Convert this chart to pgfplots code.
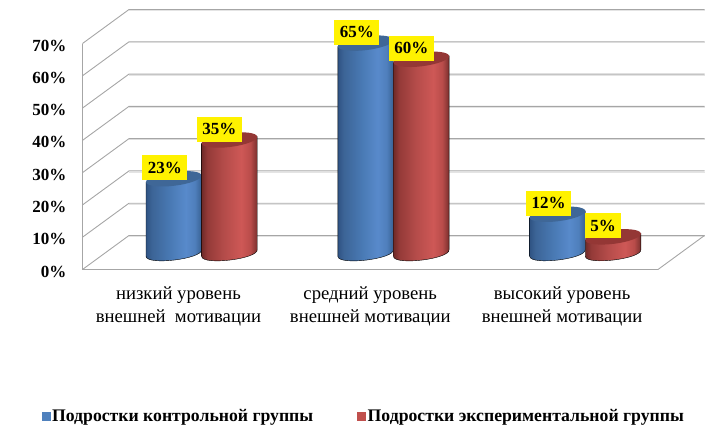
\documentclass[border=0pt]{standalone}
\usepackage{fontspec}
\setmainfont{Liberation Serif}
\usepackage{pgfplots}
\pgfplotsset{compat=1.18}
\usetikzlibrary{calc}
\definecolor{gridc}{HTML}{A6A6A6}
\definecolor{gridshadow}{HTML}{E4E4E4}
\definecolor{lblue}{HTML}{4F81BD}
\definecolor{lred}{HTML}{C0504D}
\definecolor{topb}{HTML}{3F6797}
\definecolor{topr}{HTML}{943735}
\definecolor{ba}{HTML}{2F5383}
\definecolor{bb}{HTML}{3C6496}
\definecolor{bc}{HTML}{4878B2}
\definecolor{bd}{HTML}{588ACB}
\definecolor{be}{HTML}{4F7FBC}
\definecolor{bf}{HTML}{345C8C}
\definecolor{ra}{HTML}{6F2A28}
\definecolor{rb}{HTML}{943A38}
\definecolor{rc}{HTML}{B54C4A}
\definecolor{rd}{HTML}{CE5856}
\definecolor{re}{HTML}{B94C4A}
\definecolor{rf}{HTML}{702B29}
\pgfdeclarehorizontalshading{bluecyl}{100bp}{
  color(0bp)=(ba);
  color(25bp)=(ba);
  color(30bp)=(bb);
  color(45bp)=(bc);
  color(60bp)=(bd);
  color(68bp)=(be);
  color(75bp)=(bf);
  color(100bp)=(bf)}
\pgfdeclarehorizontalshading{redcyl}{100bp}{
  color(0bp)=(ra);
  color(25bp)=(ra);
  color(30bp)=(rb);
  color(45bp)=(rc);
  color(60bp)=(rd);
  color(68bp)=(re);
  color(75bp)=(rf);
  color(100bp)=(rf)}
\pgfdeclareplotmark{cyltop}{%
  \pgfpathellipse{\pgfpointorigin}{\pgfqpoint{27.8pt}{3.4pt}}{\pgfqpoint{-0.85pt}{6.95pt}}%
  \pgfusepath{fill}}
\pgfplotsset{
  cyl/.style n args={4}{
    scatter, only marks, mark=cyltop,
    visualization depends on={rawy \as \yv},
    scatter/@pre marker code/.code={%
      \pgfmathsetmacro\H{\yv*3.23}%
      \path[shading=#2]
        ({#1-27.8pt},-3.4pt) -- ({#1-27.8pt},{(-3.4-\H)*1pt})
        .. controls ({#1-26.67pt},{(-12.67-\H)*1pt}) and ({#1+28.93pt},{(-5.87-\H)*1pt})
        .. ({#1+27.8pt},{(3.4-\H)*1pt}) -- ({#1+27.8pt},3.4pt) -- cycle;
      \scope[xshift=#1,fill=#3,draw=none]%
    },
    scatter/@post marker code/.code={\endscope},
    legend image code/.code={\fill[#4] (-3pt,-4pt) rectangle (5pt,4pt);},
  },
  cyllabel/.style={
    forget plot, only marks, mark=none, point meta=y,
    nodes near coords={\pgfmathprintnumber{\pgfplotspointmeta}\%},
    every node near coord/.append style={
      anchor=center, fill=yellow, text=black, inner xsep=5.5pt, inner ysep=0pt,
      minimum height=25pt, font=\fontsize{17}{18}\selectfont\bfseries,
      /pgf/number format/assume math mode=true,
      xshift=#1, yshift=11pt},
  },
}
\begin{document}
\begin{tikzpicture}[x=1pt,y=1pt]
\path (0,0) rectangle (726,431);
\begin{axis}[
  at={(82.5pt,161.5pt)}, anchor=south west, scale only axis,
  width=575.5pt, height=226pt,
  xmin=0, xmax=3, ymin=0, ymax=70,
  clip=false,
  axis x line=bottom, axis y line=left,
  axis line style={-,draw=gridc,line width=0.9pt},
  xtick={0.5,1.5,2.5},
  major x tick style={draw=none},
  xticklabels={{низкий уровень\\внешней\ \ мотивации},{средний уровень\\внешней\ мотивации},{высокий уровень\\внешней\ мотивации}},
  extra x ticks={0,1,2,3},
  extra x tick labels={},
  extra x tick style={tick style={draw=gridc,line width=0.7pt},major tick length=5pt},
  x tick label style={align=center,font=\fontsize{18.7}{23}\selectfont,yshift=-12pt},
  ytick={0,10,...,70},
  yticklabel={\pgfmathprintnumber{\tick}\%},
  /pgf/number format/assume math mode=true,
  y tick label style={font=\fontsize{17}{18}\selectfont\bfseries,xshift=-10.5pt,yshift=-2pt},
  major y tick style={draw=none},
]
\pgfplotsinvokeforeach{0,10,...,70}{
  \draw[gridshadow,line width=1pt] ($(axis cs:0,#1)+(46.5pt,32.8pt)$) -- ++(576pt,0pt);
  \draw[gridc,line width=0.9pt] (axis cs:0,#1) -- ++(46.5pt,34pt) -- ++(575.5pt,0pt);
}
\draw[gridc,line width=0.9pt] (axis cs:3,0) -- ++(46.5pt,34pt);
\draw[gridc,line width=1.6pt] (axis cs:0,0) -- (axis cs:3,0);
\end{axis}
\begin{axis}[
  at={(105.5pt,178pt)}, anchor=south west, scale only axis,
  width=575.5pt, height=226pt,
  xmin=-0.5, xmax=2.5, ymin=0, ymax=70,
  clip=false, hide axis,
  legend style={draw=none,fill=none,at={(0,0)},anchor=west,xshift=-67pt,yshift=-163pt,
    legend columns=2,font=\fontsize{17.7}{20}\selectfont\bfseries,
    /tikz/every even column/.append style={column sep=42pt}},
]
\addplot[cyl={-27.6pt}{bluecyl}{topb}{lblue}] coordinates {(0,23) (1,65) (2,12)};
\addlegendentry{Подростки контрольной группы}
\addplot[cyl={28pt}{redcyl}{topr}{lred}] coordinates {(0,35) (1,60) (2,5)};
\addlegendentry{Подростки экспериментальной группы}
\addplot[cyllabel={-36.5pt}] coordinates {(0,23) (1,65) (2,12)};
\addplot[cyllabel={18pt}] coordinates {(0,35) (1,60) (2,5)};
\end{axis}
\end{tikzpicture}
\end{document}
